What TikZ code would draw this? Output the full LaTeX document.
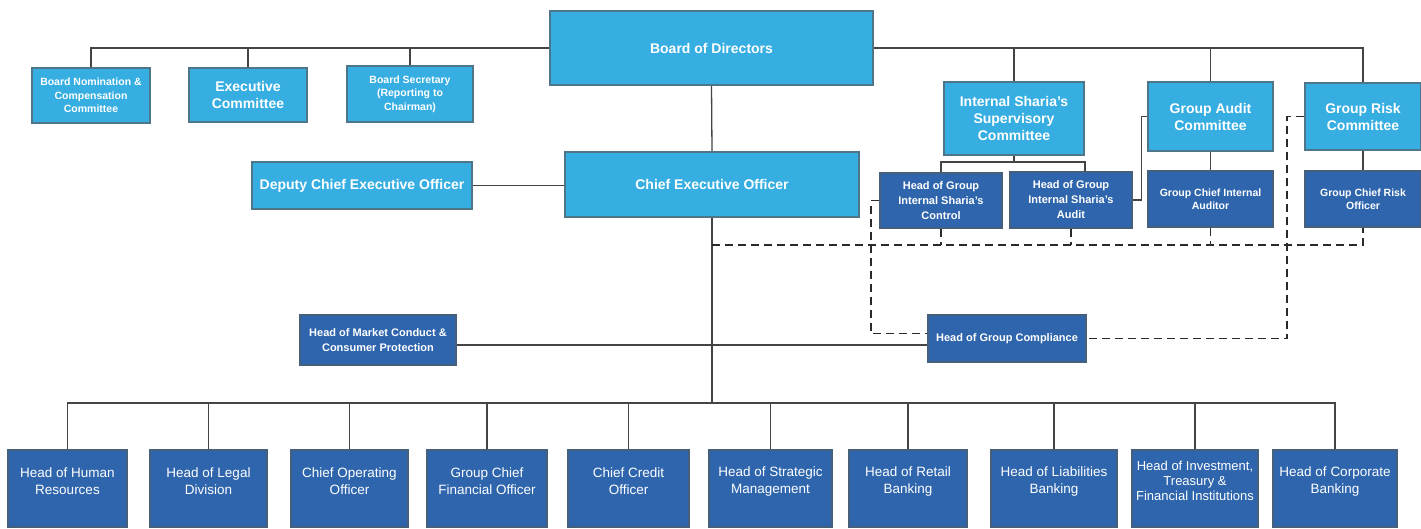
\documentclass[tikz,border=0pt]{standalone}
\usepackage{fontspec}
\setmainfont{Liberation Sans}
\usetikzlibrary{calc}
\definecolor{lbfill}{HTML}{36AEE2}
\definecolor{lbline}{HTML}{4F7588}
\definecolor{dbfill}{HTML}{2E65AC}
\definecolor{dbline}{HTML}{46607C}
\definecolor{conncol}{HTML}{444444}
\definecolor{dashcol}{HTML}{2A2A2A}
\tikzset{
 lbox/.style={draw=lbline, fill=lbfill, line width=2.4pt, text=white, align=center, inner sep=0pt, font=\bfseries\fontsize{14}{17}\selectfont},
 lboxs/.style={lbox, font=\bfseries\fontsize{10.5}{13.5}\selectfont},
 dbox/.style={draw=dbline, fill=dbfill, line width=2.4pt, text=white, align=center, inner sep=0pt, font=\bfseries\fontsize{11}{15}\selectfont},
 dboxs/.style={dbox, font=\bfseries\fontsize{10.5}{13.5}\selectfont},
 botbox/.style={draw=dbline, fill=dbfill, line width=2.4pt, inner sep=0pt},
 bottxt/.style={text=white, align=center, inner sep=0pt, font=\fontsize{13.5}{17}\selectfont},
 bottxts/.style={bottxt, font=\fontsize{13}{15}\selectfont},
 conn/.style={draw=conncol, line width=1.3pt},
 dconn/.style={draw=dashcol, line width=1.4pt, dash pattern=on 8pt off 5pt},
}
\newcommand{\mkbox}[7]{\node[#1, minimum width={#4-#2}, minimum height={#5-#3}] (#6) at ({(#2+#4)/2},{(#3+#5)/2}) {#7};}
\newcommand{\mkbot}[5]{\node[botbox, minimum width={#3-#2}, minimum height=77, anchor=north] (#1) at ({(#2+#3)/2},449) {};
 \node[#5] (#1-t) at ({(#2+#3)/2},481) {#4};}
\begin{document}
\begin{tikzpicture}[x=1pt,y=-1pt]
\useasboundingbox[fill=white] (0,0) rectangle (1421,528);
% top level
\mkbox{lbox}{550}{11}{873}{85}{bod}{Board of Directors}
\mkbox{lboxs}{32}{68}{150}{123}{bnc}{Board Nomination \&\\Compensation\\Committee}
\mkbox{lbox}{189}{68}{307}{122}{exc}{Executive\\Committee}
\mkbox{lboxs}{347}{66}{473}{122}{bsec}{Board Secretary\\(Reporting to\\Chairman)}
\mkbox{lbox}{565}{152}{859}{217}{ceo}{Chief Executive Officer}
\mkbox{lbox}{252}{162}{472}{209}{dep}{Deputy Chief Executive Officer}
\mkbox{lbox}{944}{82}{1084}{155}{isc}{Internal Sharia's\\Supervisory\\Committee}
\mkbox{lbox}{1148}{82}{1273}{151}{gac}{Group Audit\\Committee}
\mkbox{lbox}{1305}{83}{1421}{150}{grc}{Group Risk\\Committee}
% second level dark
\mkbox{dbox}{880}{173}{1002}{228}{shc}{Head of Group\\Internal Sharia's\\Control}
\mkbox{dbox}{1010}{172}{1132}{228}{sha}{Head of Group\\Internal Sharia's\\Audit}
\mkbox{dboxs}{1148}{171}{1273}{227}{gcia}{Group Chief Internal\\Auditor}
\mkbox{dboxs}{1305}{171}{1421}{227}{gcro}{Group Chief Risk\\Officer}
\mkbox{dbox}{300}{315}{456}{365}{mkt}{Head of Market Conduct \&\\Consumer Protection}
\mkbox{dbox}{928}{315}{1086}{362}{comp}{Head of Group Compliance}
% bottom row
\mkbot{hr}{8}{127}{Head of Human\\Resources}{bottxt}
\mkbot{legal}{150}{267}{Head of Legal\\Division}{bottxt}
\mkbot{coo}{291}{408}{Chief Operating\\Officer}{bottxt}
\mkbot{gcfo}{427}{547}{Group Chief\\Financial Officer}{bottxt}
\mkbot{cco}{568}{689}{Chief Credit\\Officer}{bottxt}
\mkbot{strat}{709}{832}{Head of Strategic\\Management}{bottxt}
\mkbot{retail}{849}{967}{Head of Retail\\Banking}{bottxt}
\mkbot{liab}{991}{1117}{Head of Liabilities\\Banking}{bottxt}
\mkbot{invest}{1132}{1258}{Head of Investment,\\Treasury \&\\Financial Institutions}{bottxts}
\mkbot{corp}{1273}{1397}{Head of Corporate\\Banking}{bottxt}
% board connectors
\draw[conn] (bnc.north) |- (bod.west);
\draw[conn] (exc.north) -- (exc.north |- bod.west);
\draw[conn] (bsec.north) -- (bsec.north |- bod.west);
\draw[conn] (bod.east) -| (grc.north);
\draw[conn] (isc.north) -- (isc.north |- bod.east);
\draw[conn] (gac.north) -- (gac.north |- bod.east);
\draw[conn] (bod.south) -- (ceo.north);
\draw[conn] (dep.east) -- (dep.east -| ceo.west);
% CEO bus
\coordinate (bus) at (ceo.south |- 0,403);
\draw[conn] (ceo.south) -- (bus);
\draw[conn] (hr.north) |- (bus);
\draw[conn] (corp.north) |- (bus);
\foreach \n in {legal,coo,gcfo,cco,strat,retail,liab,invest}
  \draw[conn] (\n.north) -- (\n.north |- bus);
% sharia branch
\coordinate (sbr) at (isc.south |- 0,162);
\draw[conn] (isc.south) -- (sbr);
\draw[conn] (shc.north) |- (sbr);
\draw[conn] ([xshift=14pt]sha.north) |- (sbr);
\draw[conn] (sha.east) -- ++(8,0) |- (gac.west);
\draw[conn] (gac.south) -- (gcia.north);
\draw[conn] (grc.south) -- (gcro.north);
% dashed reporting lines
\coordinate (dl) at (ceo.south |- 0,245);
\draw[dconn] (dl) -| (gcro.south);
\draw[dconn] (shc.south) -- (shc.south |- dl);
\draw[dconn] (sha.south) -- (sha.south |- dl);
\draw[dconn] (gcia.south) -- (gcia.south |- dl);
\draw[dconn] (shc.west) -- ++(-8,0) |- ([yshift=5pt]comp.west);
\draw[dconn] (grc.west) -- ++(-17,0) |- (comp.east);
\draw[conn] ([yshift=-5pt]mkt.east) -- ([yshift=-5pt]mkt.east -| comp.west);
\end{tikzpicture}
\end{document}
